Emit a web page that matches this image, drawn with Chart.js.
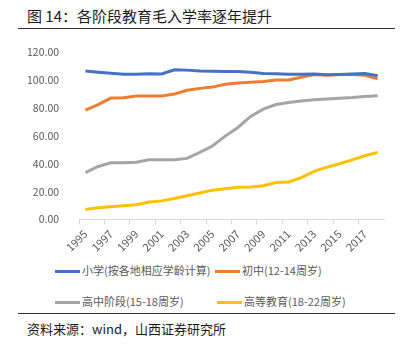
<!DOCTYPE html>
<html>
<head>
<meta charset="utf-8">
<script src="https://cdn.jsdelivr.net/npm/chart.js@4/dist/chart.umd.min.js"></script>
<style>
  body { margin: 0; background: #fff; font-family: "Noto Sans CJK SC", sans-serif; }
  #page { position: relative; width: 408px; height: 349px; overflow: hidden; }
  .title { position: absolute; left: 27px; top: 5px; font-size: 15px; color: #1a1a1a; }
  .rule { position: absolute; left: 18px; width: 377px; height: 1px; background: #333; }
  .source { position: absolute; left: 27px; top: 319px; font-size: 13px; color: #1a1a1a; }
  #chartBox { position: absolute; left: 0; top: 34px; width: 408px; height: 223px; }
  .leg { position: absolute; font-size: 11px; color: #595959; white-space: nowrap; line-height: 14px; }
  .leg i { display: inline-block; width: 25px; height: 3px; vertical-align: middle; margin-right: 2px; margin-top: -2px; }
</style>
</head>
<body>
<div id="page">
  <div class="title">图 14：各阶段教育毛入学率逐年提升</div>
  <div class="rule" style="top:28px"></div>
  <div id="chartBox"><canvas id="c"></canvas></div>
  <div id="legend"></div>
  <div class="rule" style="top:313px"></div>
  <div class="source">资料来源：wind，山西证券研究所</div>
</div>
<script>
const years = ["1995","1996","1997","1998","1999","2000","2001","2002","2003","2004","2005","2006",
  "2007","2008","2009","2010","2011","2012","2013","2014","2015","2016","2017","2018"];
const seriesNames = ["小学(按各地相应学龄计算)", "初中(12-14周岁)", "高中阶段(15-18周岁)", "高等教育(18-22周岁)"];
const seriesColors = ["#4472C4", "#ED7D31", "#A5A5A5", "#FFC000"];
const primary = [106.6,105.7,104.9,104.3,104.3,104.6,104.5,107.5,107.2,106.6,106.4,106.3,
  106.2,105.7,104.8,104.6,104.2,104.3,104.4,103.8,104.0,104.4,104.8,103.2];
const junior = [78.4,82.4,87.1,87.3,88.6,88.6,88.7,90.0,92.7,94.1,95.0,97.0,
  98.0,98.5,99.0,100.1,100.1,102.1,104.1,103.5,104.0,104.0,103.5,100.9];
const senior = [33.6,38.0,40.6,40.7,41.0,42.8,42.8,42.8,43.8,48.1,52.7,59.8,
  66.0,74.0,79.2,82.5,84.0,85.0,86.0,86.5,87.0,87.5,88.3,88.8];
const higher = [7.2,8.3,9.1,9.8,10.5,12.5,13.3,15.0,17.0,19.0,21.0,22.0,
  23.0,23.3,24.2,26.5,26.9,30.0,34.5,37.5,40.0,42.7,45.7,48.1];
const yTicks = [0, 20, 40, 60, 80, 100, 120];

const allSeries = [primary, junior, senior, higher];

// legend laid out like the Excel grid (2 columns x 2 rows)
const legPos = [[55, 263], [215, 263], [55, 294], [217, 294]];
const legend = document.getElementById("legend");
seriesNames.forEach((name, i) => {
  const d = document.createElement("div");
  d.className = "leg";
  d.style.left = legPos[i][0] + "px";
  d.style.top = legPos[i][1] + "px";
  d.innerHTML = '<i style="background:' + seriesColors[i] + '"></i>' + name;
  legend.appendChild(d);
});

new Chart(document.getElementById("c"), {
  type: "line",
  data: {
    labels: years,
    datasets: allSeries.map((vals, i) => ({
      label: seriesNames[i],
      data: vals,
      borderColor: seriesColors[i],
      backgroundColor: seriesColors[i],
      borderWidth: 3,
      pointRadius: 0,
      tension: 0
    }))
  },
  options: {
    responsive: true,
    maintainAspectRatio: false,
    animation: false,
    layout: { padding: { top: 0, right: 24, left: 15, bottom: 0 } },
    plugins: { legend: { display: false }, tooltip: { enabled: false } },
    scales: {
      x: {
        offset: true,
        grid: {
          offset: true,
          drawOnChartArea: false,
          tickLength: 5,
          color: ctx => (ctx.index % 2 === 0 ? "#d9d9d9" : "rgba(0,0,0,0)")
        },
        border: { color: "#d9d9d9" },
        ticks: {
          autoSkip: false,
          minRotation: 45,
          maxRotation: 45,
          color: "#595959",
          font: { size: 11, family: "Noto Sans CJK SC" },
          callback: (v, i) => (i % 2 === 0 ? years[i] : "")
        }
      },
      y: {
        min: yTicks[0],
        max: yTicks[yTicks.length - 1],
        afterBuildTicks: axis => { axis.ticks = yTicks.map(v => ({ value: v })); },
        grid: { display: false },
        border: { display: false },
        ticks: {
          color: "#595959",
          padding: 12,
          font: { size: 10.5, family: "Noto Sans CJK SC" },
          callback: v => v.toFixed(2)
        }
      }
    }
  }
});
</script>
</body>
</html>
